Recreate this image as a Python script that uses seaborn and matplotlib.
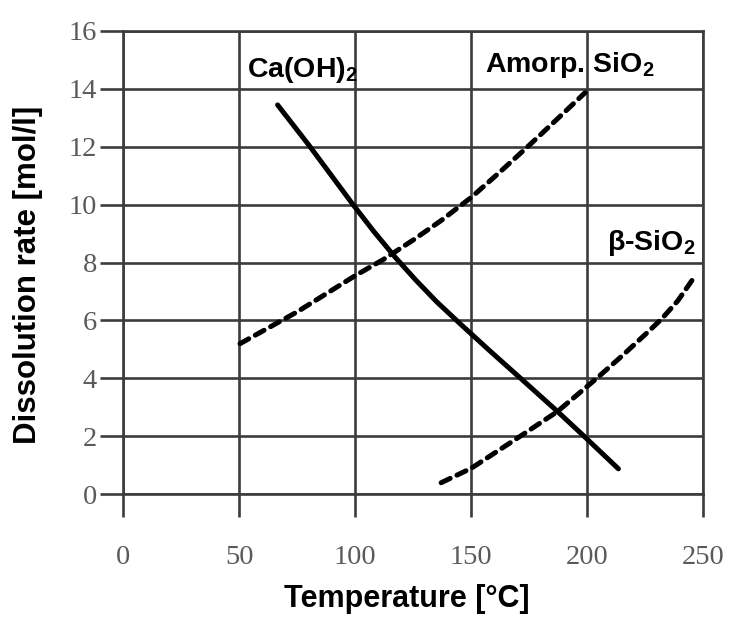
import matplotlib
matplotlib.use("Agg")
import matplotlib.pyplot as plt
import numpy as np
import pandas as pd
import seaborn as sns

# Dissolution rate vs. temperature for the three phases
caoh2_temp = [66.5, 80, 99, 108, 117, 126, 135, 145, 158, 172, 187, 198, 213.4]
caoh2_rate = [13.44, 12.05, 10.0, 9.07, 8.2, 7.4, 6.65, 5.9, 4.95, 3.95, 2.87, 2.05, 0.88]

amorph_temp = [50.3, 75, 100, 112, 125, 137, 150, 162, 175, 187, 199]
amorph_rate = [5.2, 6.3, 7.55, 8.1, 8.78, 9.45, 10.25, 11.1, 12.05, 12.95, 13.86]

beta_temp = [137, 150, 171, 187, 204, 215, 225, 232, 239, 245.7]
beta_rate = [0.4, 0.9, 2.0, 2.85, 4.0, 4.78, 5.52, 6.05, 6.68, 7.45]

x_ticks = [0, 50, 100, 150, 200, 250]
y_ticks = [0, 2, 4, 6, 8, 10, 12, 14, 16]

sns.set_style("white")
plt.rcParams["font.family"] = ["Liberation Sans", "DejaVu Sans"]
plt.rcParams["mathtext.fontset"] = "custom"
plt.rcParams["mathtext.rm"] = "Liberation Sans:bold"
plt.rcParams["mathtext.bf"] = "Liberation Sans:bold"

grid_color = "#3c3c3c"
grid_lw = 1.9

fig = plt.figure(figsize=(7.34, 6.21), dpi=100)
ax = fig.add_axes([0.168, 0.204, 0.7902, 0.7465])

df_ca = pd.DataFrame({"T": caoh2_temp, "rate": caoh2_rate})
df_am = pd.DataFrame({"T": amorph_temp, "rate": amorph_rate})
df_be = pd.DataFrame({"T": beta_temp, "rate": beta_rate})

sns.lineplot(data=df_ca, x="T", y="rate", ax=ax, color="black", lw=3.6,
             sort=False, solid_capstyle="round", solid_joinstyle="round", zorder=5)
sns.lineplot(data=df_am, x="T", y="rate", ax=ax, color="black", lw=3.6,
             sort=False, linestyle=(0, (2.0, 1.5)), dash_capstyle="round", zorder=5)
sns.lineplot(data=df_be, x="T", y="rate", ax=ax, color="black", lw=3.6,
             sort=False, linestyle=(0, (2.0, 1.5)), dash_capstyle="round", zorder=5)

ax.set_xlim(0, 250)
ax.set_ylim(0, 16)
ax.set_xticks(x_ticks)
ax.set_yticks(y_ticks)
ax.set_xticklabels([str(v) for v in x_ticks])
ax.set_yticklabels([str(v) for v in y_ticks])

ax.grid(True, color=grid_color, lw=grid_lw, zorder=1)
ax.set_axisbelow(True)
for sp in ax.spines.values():
    sp.set_visible(True)
    sp.set_color(grid_color)
    sp.set_linewidth(grid_lw)

ax.tick_params(axis="both", which="major", direction="out", bottom=True, left=True,
               color=grid_color, width=grid_lw, length=16.8,
               labelcolor="#5a5a5a", labelsize=20.5)
ax.tick_params(axis="x", pad=20)
ax.tick_params(axis="y", pad=2)
for lab in ax.get_xticklabels() + ax.get_yticklabels():
    lab.set_family(["Liberation Serif", "DejaVu Serif"])

ax.set_xlabel("Temperature [°C]", fontsize=22, fontweight="bold", color="black")
ax.set_ylabel("Dissolution rate [mol/l]", fontsize=22.5, fontweight="bold", color="black")
ax.xaxis.label.set_va("baseline")
ax.yaxis.label.set_va("baseline")
ax.xaxis.set_label_coords(0.488, -0.2424)
ax.yaxis.set_label_coords(-0.1505, 0.473)

ann_kw = dict(fontsize=20.5, fontweight="bold", ha="left", va="baseline",
              color="black", zorder=6)
ax.text(53.4, 14.39, r"Ca(OH)$_\mathbf{2}$", **ann_kw)
ax.text(155.9, 14.58, r"Amorp. SiO$_\mathbf{2}$", **ann_kw)
ax.text(208.4, 8.43, r"β-SiO$_\mathbf{2}$", **ann_kw)

fig.savefig("out.png", dpi=100, facecolor="white")
